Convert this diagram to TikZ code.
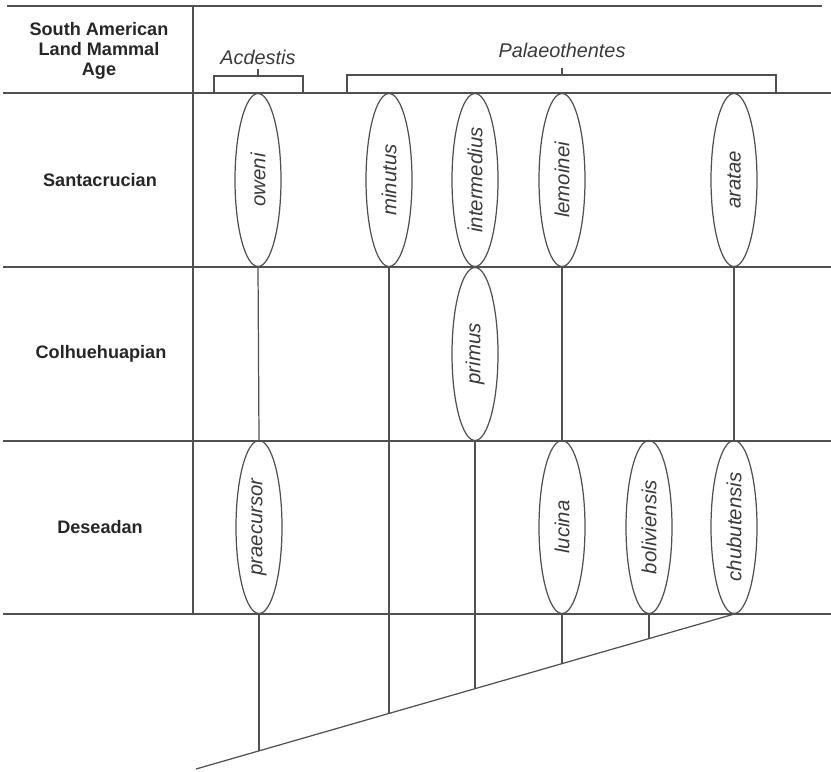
\documentclass[tikz,border=0pt]{standalone}
\usepackage{fontspec}
\setmainfont{Liberation Sans}
\usetikzlibrary{shapes.geometric,intersections,positioning}
\definecolor{inkgray}{HTML}{505050}
\definecolor{textgray}{HTML}{3A3A3A}
\tikzset{
  rule/.style     = {draw=inkgray, line width=0.7pt},
  taxon/.style    = {draw=inkgray, line width=0.7pt, ellipse, rotate=90,
                     inner sep=0pt, minimum width=3.46cm, minimum height=0.92cm,
                     font=\fontsize{11.6}{13}\selectfont\itshape, text=textgray},
  genus/.style    = {font=\fontsize{11.3}{13}\selectfont\itshape, text=textgray},
  agelabel/.style = {font=\fontsize{10.3}{11.2}\selectfont\bfseries,
                     align=center, text=black!85},
  branch/.style   = {draw=inkgray, line width=0.7pt},
}
\begin{document}
\begin{tikzpicture}[x=0.02cm,y=-0.02cm]
\useasboundingbox (0,0) rectangle (831,771);
% table rules
\draw[rule] (7,6) -- (822,6);
\draw[rule] (193,6) -- (193,614);
\foreach \y in {93,267,441,614}
  \draw[rule] (3,\y) -- (831,\y);
% age column
\node[agelabel] (sama) at (99,51) {South American\\Land Mammal\\Age};
\node[agelabel] (santacrucian) at (100,180) {Santacrucian};
\node[agelabel] (colhuehuapian) at (101,354) {Colhuehuapian};
\node[agelabel] (deseadan) at (100,527) {Deseadan};
% genera
\node[genus] (acdestis) at (258,57) {Acdestis};
\node[genus] (palaeothentes) at (562,50) {Palaeothentes};
\draw[rule] (214,93) -- (214,76) -- (303,76) -- (303,93);
\draw[rule] (258,76) -- (258,69);
\draw[rule] (347,93) -- (347,75) -- (776,75) -- (776,93);
\draw[rule] (562,75) -- (562,68);
% species
\node[taxon] (oweni) at (258,180) {oweni};
\node[taxon] (minutus) at (389,180) {minutus};
\node[taxon] (intermedius) at (475,180) {intermedius};
\node[taxon] (lemoinei) at (562,180) {lemoinei};
\node[taxon] (aratae) at (734,180) {aratae};
\node[taxon] (primus) at (475,354) {primus};
\node[taxon] (praecursor) at (259,527) {praecursor};
\node[taxon] (lucina) at (562,527) {lucina};
\node[taxon] (boliviensis) at (649,527) {boliviensis};
\node[taxon] (chubutensis) at (734,527) {chubutensis};
% lineages
\draw[branch] (oweni.west) -- (praecursor.east);
\draw[branch] (lemoinei.west) -- (lucina.east);
\draw[branch] (aratae.west) -- (chubutensis.east);
\coordinate (root) at (196,769);
\draw[branch, name path=trunk] (root) -- (chubutensis.west);
\foreach \t in {praecursor,minutus,primus,lucina,boliviensis}{
  \path[name path=stem] (\t.west) -- ++(0,700);
  \draw[branch, name intersections={of=stem and trunk}] (\t.west) -- (intersection-1);
}
\end{tikzpicture}
\end{document}
